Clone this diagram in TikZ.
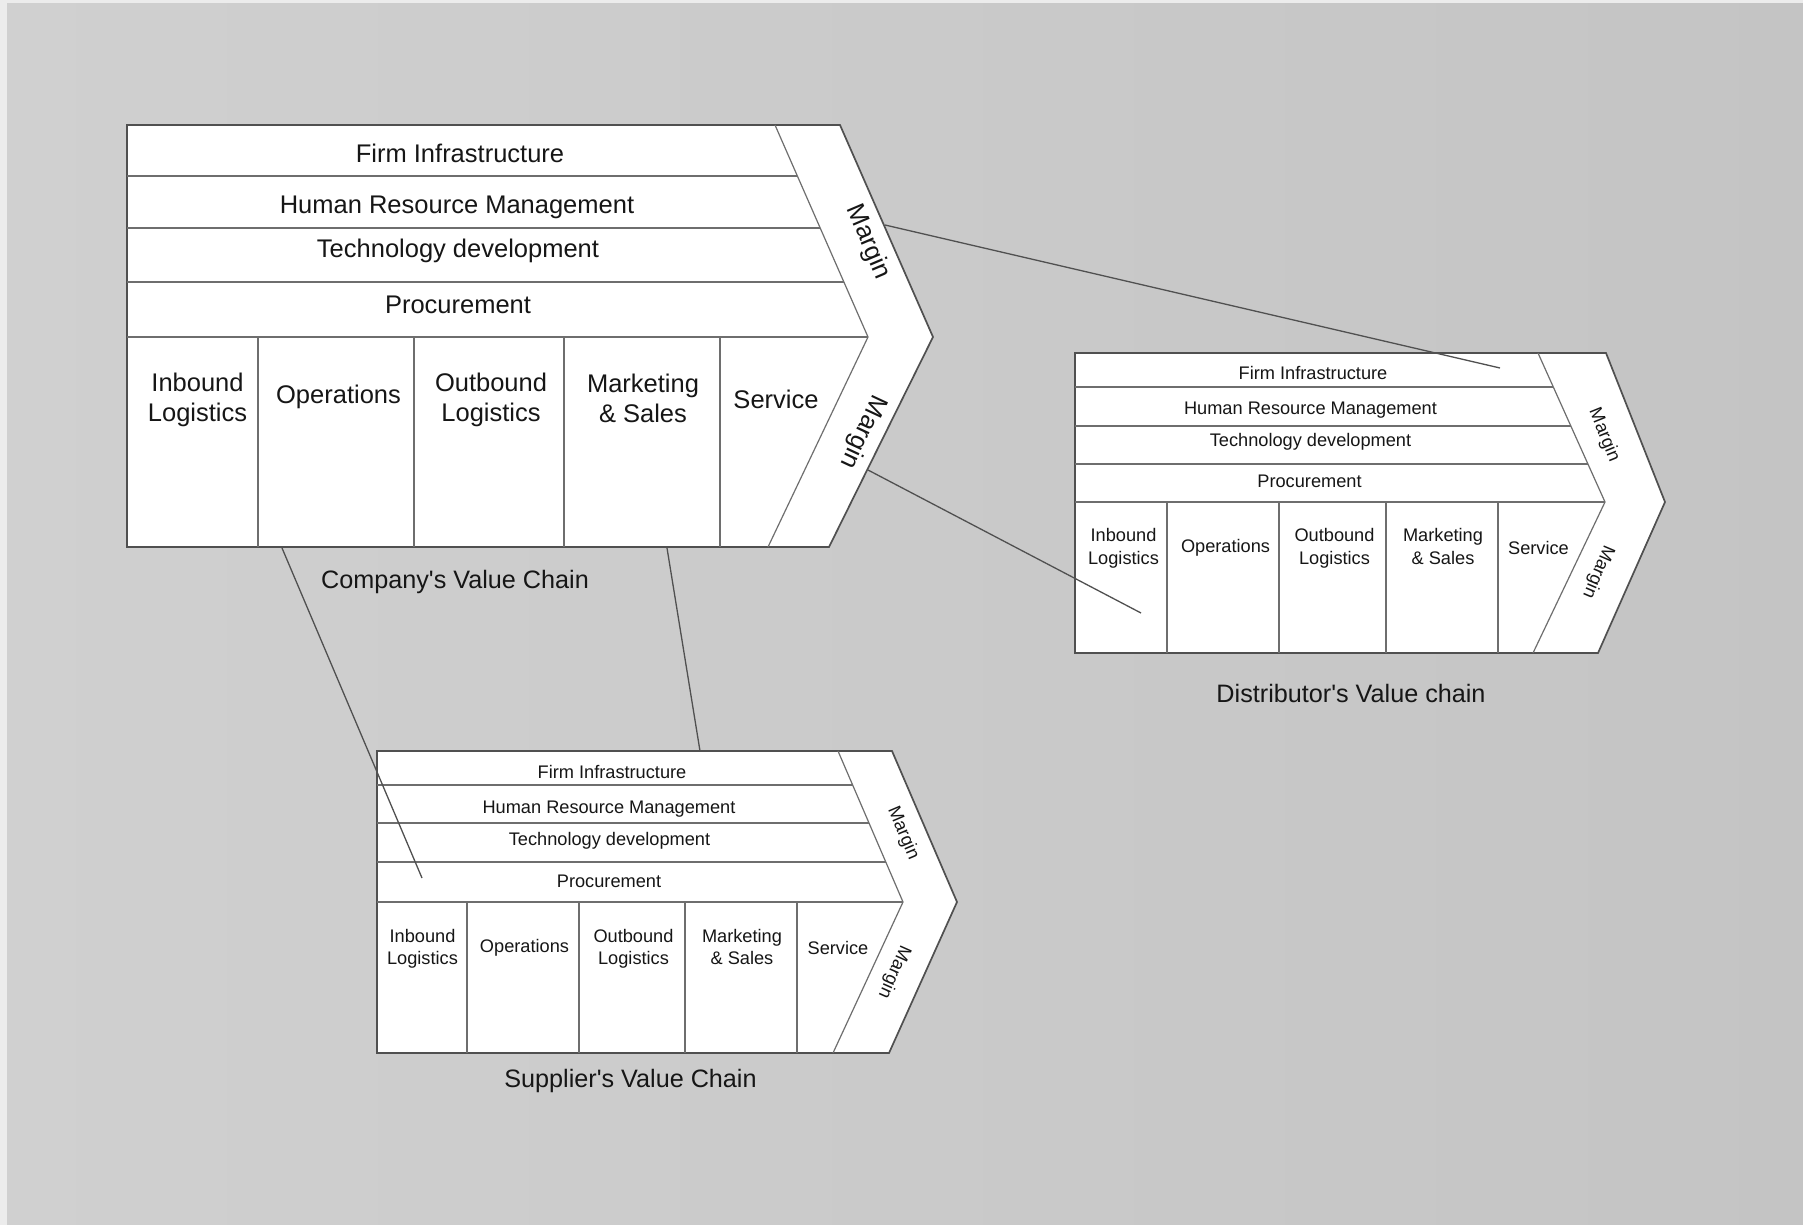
\documentclass[tikz,border=0pt]{standalone}
\usepackage{fontspec}
\setmainfont{Liberation Sans}
\usetikzlibrary{calc}

\definecolor{paperL}{RGB}{208,208,208}
\definecolor{paperR}{RGB}{196,196,196}
\definecolor{edge}{RGB}{236,236,236}
\definecolor{ink}{RGB}{80,80,80}
\definecolor{divider}{RGB}{110,110,110}
\definecolor{txt}{RGB}{22,22,22}

\newcommand\chainbig{\fontsize{25.5}{30}\selectfont}
\newcommand\chainsmall{\fontsize{18.2}{22.5}\selectfont}
\newcommand\chaintitle{\fontsize{25.2}{30}\selectfont}

\tikzset{
  outline/.style={draw=ink, line width=1.7pt, fill=white, line join=miter},
  divline/.style={draw=divider, line width=1.2pt},
  link/.style={draw=ink, line width=1.3pt},
  bigtext/.style={font=\chainbig, text=txt, inner sep=0pt, align=center},
  smalltext/.style={font=\chainsmall, text=txt, inner sep=0pt, align=center},
  titletext/.style={font=\chaintitle, text=txt, inner sep=0pt},
}

\begin{document}
\begin{tikzpicture}[x=1pt,y=-1pt]
% paper
\shade[left color=paperL, right color=paperR] (0,0) rectangle (1814,1225);
\fill[edge] (0,0) rectangle (7,1225);
\fill[edge] (0,0) rectangle (1814,3);
\fill[white] (1803,0) rectangle (1814,1225);
\useasboundingbox (0,0) rectangle (1814,1225);

% ---------------- Company's value chain ----------------
\path[outline] (127,125) -- (840,125) -- (933,337) -- (829,547) -- (127,547) -- cycle;
\draw[divline] (775,125) -- (868,337) -- (768,547);
\draw[divline] (127,176) -- (797.4,176) (127,228) -- (820.2,228)
               (127,282) -- (843.9,282) (127,337) -- (868,337);
\draw[divline] (258,337) -- (258,547) (414,337) -- (414,547)
               (564,337) -- (564,547) (720,337) -- (720,547);

\node[bigtext, anchor=base] (co-fi) at (460,163) {Firm Infrastructure};
\node[bigtext, anchor=base] (co-hr) at (457,213) {Human Resource Management};
\node[bigtext, anchor=base] (co-td) at (458,257) {Technology development};
\node[bigtext, anchor=base] (co-pr) at (458,313) {Procurement};
\node[bigtext] (co-il) at (197.5,400) {Inbound\\Logistics};
\node[bigtext, anchor=base] (co-op) at (338.5,403) {Operations};
\node[bigtext] (co-ol) at (491,400) {Outbound\\Logistics};
\node[bigtext] (co-ms) at (643,398) {Marketing\\\& Sales};
\node[bigtext, anchor=base] (co-sv) at (776,408) {Service};
\node[bigtext, rotate=-67] (co-m1) at (868,242) {Margin};
\node[bigtext, rotate=-115] (co-m2) at (863,432) {Margin};
\node[titletext, anchor=base] (co-title) at (455,588) {Company\textquotesingle s Value Chain};

% ---------------- Distributor's value chain ----------------
\path[outline] (1075,353) -- (1606,353) -- (1665,502) -- (1598,653) -- (1075,653) -- cycle;
\draw[divline] (1538,353) -- (1605,502) -- (1533,653);
\draw[divline] (1075,387) -- (1553.3,387) (1075,426) -- (1570.8,426)
               (1075,464) -- (1587.9,464) (1075,502) -- (1605,502);
\draw[divline] (1167,502) -- (1167,653) (1279,502) -- (1279,653)
               (1386,502) -- (1386,653) (1498,502) -- (1498,653);

\node[smalltext, anchor=base] (di-fi) at (1313,379) {Firm Infrastructure};
\node[smalltext, anchor=base] (di-hr) at (1310.5,414) {Human Resource Management};
\node[smalltext, anchor=base] (di-td) at (1310.5,446) {Technology development};
\node[smalltext, anchor=base] (di-pr) at (1309.5,487) {Procurement};
\node[smalltext] (di-il) at (1123.5,548.3) {Inbound\\Logistics};
\node[smalltext, anchor=base] (di-op) at (1225.5,552) {Operations};
\node[smalltext] (di-ol) at (1334.5,548.3) {Outbound\\Logistics};
\node[smalltext] (di-ms) at (1443,546.4) {Marketing\\\& Sales};
\node[smalltext, anchor=base] (di-sv) at (1538.5,554) {Service};
\node[smalltext, rotate=-68] (di-m1) at (1604,435) {Margin};
\node[smalltext, rotate=-113] (di-m2) at (1598,572) {Margin};
\node[titletext, anchor=base] (di-title) at (1351,702) {Distributor\textquotesingle s Value chain};

% ---------------- Supplier's value chain ----------------
\path[outline] (377,751) -- (892,751) -- (957,902) -- (889,1053) -- (377,1053) -- cycle;
\draw[divline] (838,751) -- (903,902) -- (833,1053);
\draw[divline] (377,785) -- (852.6,785) (377,823) -- (869,823)
               (377,862) -- (885.8,862) (377,902) -- (903,902);
\draw[divline] (467,902) -- (467,1053) (579,902) -- (579,1053)
               (685,902) -- (685,1053) (797,902) -- (797,1053);

\node[smalltext, anchor=base] (su-fi) at (612,778) {Firm Infrastructure};
\node[smalltext, anchor=base] (su-hr) at (609,813) {Human Resource Management};
\node[smalltext, anchor=base] (su-td) at (609.5,845) {Technology development};
\node[smalltext, anchor=base] (su-pr) at (609,887) {Procurement};
\node[smalltext] (su-il) at (422.5,948.8) {Inbound\\Logistics};
\node[smalltext, anchor=base] (su-op) at (524.5,952) {Operations};
\node[smalltext] (su-ol) at (633.5,948.8) {Outbound\\Logistics};
\node[smalltext] (su-ms) at (742,946.9) {Marketing\\\& Sales};
\node[smalltext, anchor=base] (su-sv) at (838,954) {Service};
\node[smalltext, rotate=-67] (su-m1) at (903,833) {Margin};
\node[smalltext, rotate=-114] (su-m2) at (894,972) {Margin};
\node[titletext, anchor=base] (su-title) at (630.5,1087) {Supplier\textquotesingle s Value Chain};

% ---------------- links between the chains ----------------
\coordinate (co-upper) at (885,225);
\coordinate (co-lower) at (868,470);
\coordinate (co-base-l) at (282,548);
\coordinate (co-base-r) at (667,548);
\coordinate (di-top-in) at (1500,368);
\coordinate (di-low-in) at (1141,613);
\coordinate (su-proc-in) at (422,878);
\coordinate (su-top) at (700,751);

\draw[link] (co-upper) -- (di-top-in);
\draw[link] (co-lower) -- (di-low-in);
\draw[link] (co-base-l) -- (su-proc-in);
\draw[link] (co-base-r) -- (su-top);
\end{tikzpicture}
\end{document}
